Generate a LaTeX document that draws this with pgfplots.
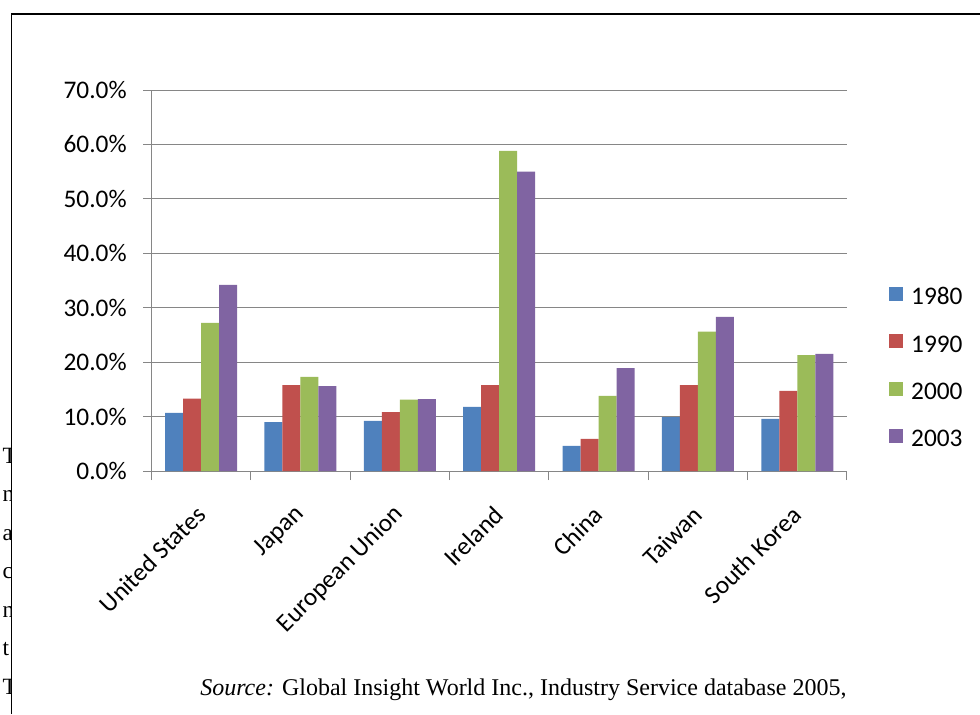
\documentclass[border=0pt]{standalone}
\usepackage{pgfplots}
\pgfplotsset{compat=1.18}
\usepackage{fontspec}
\setmainfont{Carlito}
\newfontfamily\timesfont{Liberation Serif}
\definecolor{c1}{HTML}{4F81BD}
\definecolor{c2}{HTML}{C0504D}
\definecolor{c3}{HTML}{9BBB59}
\definecolor{c4}{HTML}{8064A2}
\definecolor{gridc}{HTML}{868686}
\begin{document}
\begin{tikzpicture}
\useasboundingbox (0,0) rectangle (735pt,535.5pt);
% stray body-text letters cut by the frame
\begin{scope}
\clip (0,0) rectangle (8.6pt,535.5pt);
\foreach \yy/\ll in {188.25/T,159.75/n,130.5/a,102/c,72.75/n,44.25/t,15/T}
  \node[anchor=base west, inner sep=0pt, font=\timesfont\fontsize{17.5}{18}\selectfont] at (1.8pt,\yy pt) {\ll};
\end{scope}
\draw[line width=1.25pt] (8.6pt,0) -- (8.6pt,525pt) -- (736pt,525pt);
\node[anchor=base west, inner sep=0pt, font=\timesfont\fontsize{18}{20}\selectfont] at (150pt,14.25pt) {\textit{Source:} Global Insight World Inc., Industry Service database 2005,};
\begin{axis}[
  at={(113.6pt,182.25pt)}, anchor=south west,
  scale only axis, width=521.6pt, height=285.75pt,
  xmin=-0.5, xmax=6.5, ymin=0, ymax=70,
  ybar=0pt, bar width=13.5pt,
  axis x line*=bottom, axis y line*=left,
  axis line style={draw=gridc, line width=0.75pt, -},
  ymajorgrids, grid style={draw=gridc, line width=0.75pt},
  tick align=outside,
  major tick length=6pt,
  ytick={0,10,20,30,40,50,60,70},
  yticklabels={0.0\%,10.0\%,20.0\%,30.0\%,40.0\%,50.0\%,60.0\%,70.0\%},
  ytick style={draw=gridc, line width=0.75pt},
  yticklabel style={font=\fontsize{19}{21}\selectfont, anchor=east, inner sep=0pt, xshift=-12.4pt},
  xtick={0,1,2,3,4,5,6},
  xticklabels={United States,Japan,European Union,Ireland,China,Taiwan,South Korea},
  xtick style={draw=none},
  xticklabel style={font=\fontsize{19}{21}\selectfont, inner sep=0pt, yshift=-23.5pt, anchor=east, rotate=45},
  extra x ticks={-0.5,0.5,1.5,2.5,3.5,4.5,5.5,6.5},
  extra x tick labels={},
  extra x tick style={xtick style={draw=gridc, line width=0.75pt}, major tick length=6.75pt, grid=none},
  legend style={draw=none, fill=none, at={(1.0604,0.273)}, anchor=west, inner sep=0pt,
    font=\fontsize{19}{21}\selectfont, row sep=22.3pt, column sep=6pt,
    nodes={inner sep=0pt, text height=12.5pt, text depth=0pt}},
  legend cell align=left,
  legend image code/.code={\path[#1] (0pt,-3.5pt) rectangle (10.5pt,7pt);},
]
\addplot[fill=c1, draw=none] coordinates {(0,10.7) (1,9.0) (2,9.2) (3,11.8) (4,4.6) (5,9.9) (6,9.6)};
\addplot[fill=c2, draw=none] coordinates {(0,13.3) (1,15.8) (2,10.8) (3,15.8) (4,5.9) (5,15.8) (6,14.7)};
\addplot[fill=c3, draw=none] coordinates {(0,27.2) (1,17.3) (2,13.1) (3,58.8) (4,13.8) (5,25.6) (6,21.3)};
\addplot[fill=c4, draw=none] coordinates {(0,34.2) (1,15.6) (2,13.2) (3,55.0) (4,18.9) (5,28.3) (6,21.5)};
\legend{1980,1990,2000,2003}
\end{axis}
\end{tikzpicture}
\end{document}
